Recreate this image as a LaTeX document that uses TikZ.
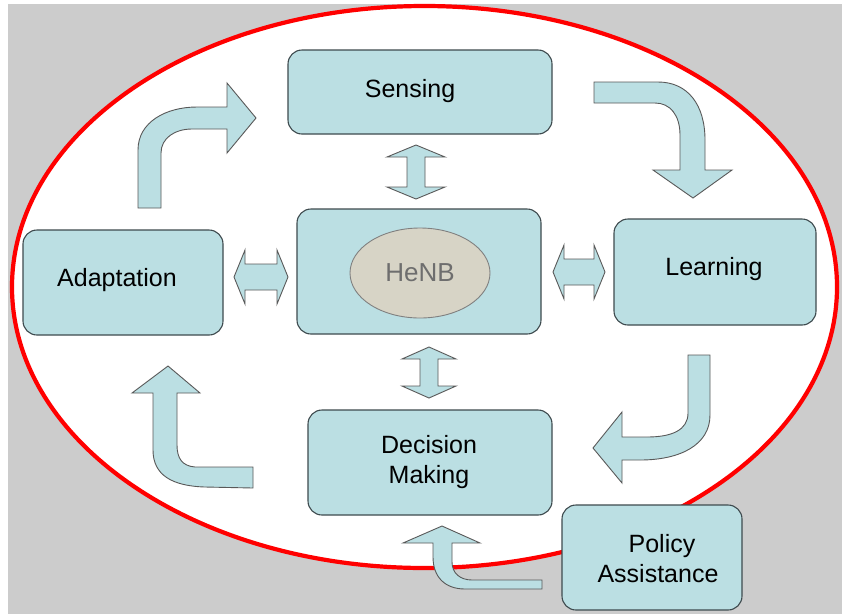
\documentclass[tikz,border=0pt]{standalone}
\usepackage{fontspec}
\setmainfont{Liberation Sans}
\usetikzlibrary{shapes.geometric}
\definecolor{boxfill}{HTML}{BBDFE3}
\definecolor{boxline}{HTML}{3E4A4E}
\definecolor{bg}{HTML}{CCCCCC}
\definecolor{henbfill}{HTML}{D7D4C6}
\definecolor{henbtext}{HTML}{6E6E6E}
\definecolor{ringred}{HTML}{FF0000}
\begin{document}
\begin{tikzpicture}[x=1pt,y=-1pt,
  box/.style={draw=boxline,fill=boxfill,line width=1.1pt,rounded corners=14pt,
    align=center,font=\fontsize{25}{30}\selectfont,inner sep=0pt},
  lbl/.style={align=center,font=\fontsize{25}{30}\selectfont,inner sep=0pt},
  blockarrow/.style={draw=black!65,fill=boxfill,line width=0.9pt,line join=miter}]
\useasboundingbox (0,0) rectangle (842,614);
\fill[bg] (8,4) rectangle (842,614);
\draw[ringred,line width=4.2pt,fill=white] (424.5,287) ellipse [x radius=412.5, y radius=281];

% boxes
\node[box,minimum width=264pt,minimum height=84pt] (sensing) at (420,92) {};
\node[lbl] (sensingtxt) at (410,91) {Sensing};
\node[box,minimum width=200pt,minimum height=105pt] (adapt) at (123,282.5) {};
\node[lbl] (adapttxt) at (117,280) {Adaptation};
\node[box,minimum width=202pt,minimum height=106pt] (learn) at (715,272) {};
\node[lbl] (learntxt) at (714,269) {Learning};
\node[box,minimum width=244pt,minimum height=125pt] (henbbox) at (419,271.5) {};
\node[draw=black!50,fill=henbfill,line width=0.9pt,ellipse,minimum width=140pt,minimum height=90pt,
  inner sep=0pt,font=\fontsize{26}{30}\selectfont,text=henbtext] (henb) at (420,273) {HeNB};
\node[box,minimum width=244pt,minimum height=105pt] (decide) at (430,462.5) {};
\node[lbl] (decidetxt) at (429,462) {Decision\\Making};
\node[box,minimum width=180pt,minimum height=105pt] (policy) at (652,557.5) {};
\node[lbl] (policytxt) at (658,559) {\hspace*{8pt}Policy\\Assistance};

% double arrows
\draw[blockarrow] (416,145) -- (445,157) -- (425,157) -- (425,187) -- (445,187) -- (416,199)
  -- (387,187) -- (407,187) -- (407,157) -- (387,157) -- cycle;
\draw[blockarrow] (429,347) -- (456,359) -- (438,359) -- (438,386) -- (456,386) -- (429,398)
  -- (402,386) -- (420,386) -- (420,359) -- (402,359) -- cycle;
\draw[blockarrow] (234,277) -- (245,250) -- (245,264) -- (277,264) -- (277,250) -- (288,277)
  -- (277,304) -- (277,290) -- (245,290) -- (245,304) -- cycle;
\draw[blockarrow] (553,272) -- (564,245) -- (564,259) -- (594,259) -- (594,245) -- (605,272)
  -- (594,299) -- (594,285) -- (564,285) -- (564,299) -- cycle;

% bent arrows
\draw[blockarrow] (138,208) -- (138,150) .. controls (138,122) and (166,107) .. (197,107)
  -- (227,107) -- (227,83) -- (256,118) -- (227,153) -- (227,129) -- (192,129)
  .. controls (175,129) and (161,138) .. (161,153) -- (161,208) -- cycle;
\draw[blockarrow] (594,82) -- (658,82) .. controls (688,82) and (705,105) .. (705,140)
  -- (705,170) -- (732,170) -- (693,198) -- (653,170) -- (680,170) -- (680,135)
  .. controls (680,115) and (670,103) .. (655,103) -- (594,103) -- cycle;
\draw[blockarrow] (688,355) -- (710,355) -- (710,415) .. controls (710,445) and (680,460) .. (640,460)
  -- (622,460) -- (622,483) -- (593,448) -- (622,412) -- (622,437) -- (647,437)
  .. controls (672,437) and (688,430) .. (688,413) -- cycle;
\draw[blockarrow] (253,467) -- (253,488) -- (205,487) .. controls (172,486) and (153,475) .. (153,450)
  -- (153,393) -- (132,393) -- (168,366) -- (200,393) -- (177,393) -- (177,445)
  .. controls (177,458) and (182,466) .. (195,467) -- cycle;
\draw[blockarrow] (542,580) -- (542,589) -- (465,589) .. controls (445,589) and (433,577) .. (433,557)
  -- (433,543) -- (403,543) -- (442,526) -- (480,543) -- (452,543) -- (452,562)
  .. controls (452,573) and (460,580) .. (472,580) -- cycle;
\end{tikzpicture}
\end{document}
